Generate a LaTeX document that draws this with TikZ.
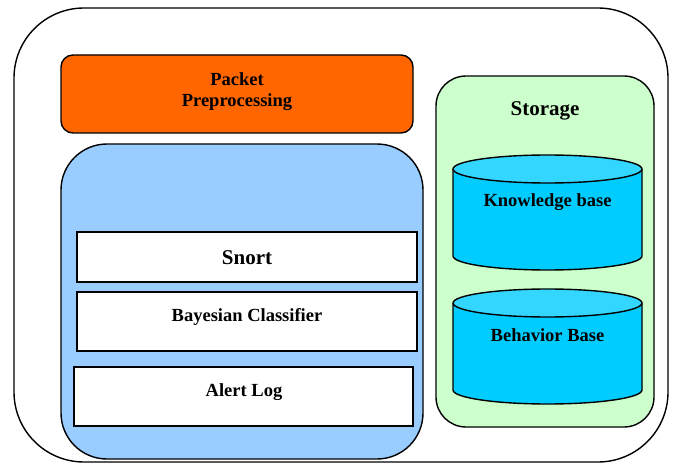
\documentclass[tikz,border=0pt]{standalone}
\usepackage{fontspec}
\setmainfont{Liberation Serif}
\usetikzlibrary{calc}
\definecolor{orangebox}{HTML}{FF6600}
\definecolor{bluebox}{HTML}{99CCFF}
\definecolor{greenbox}{HTML}{CCFFCC}
\definecolor{cylbody}{HTML}{00CCFF}
\definecolor{cyltop}{HTML}{33D6FF}
\tikzset{
  frame/.style={draw=black, line width=1.4pt},
  lbl/.style={font=\bfseries\fontsize{18.5}{21}\selectfont, align=center, inner sep=0pt},
  biglbl/.style={font=\bfseries\fontsize{21}{24}\selectfont, align=center, inner sep=0pt},
  whitebox/.style={frame, fill=white}
}
\begin{document}
\begin{tikzpicture}[x=1pt,y=-1pt]
\useasboundingbox (0,0) rectangle (674,465);
% outer frame
\draw[frame, rounded corners=70pt] (14,8) rectangle (668,462);
% packet preprocessing
\draw[frame, fill=orangebox, rounded corners=12pt] (61,55) rectangle (413,133);
\node[lbl] (pp) at (237,92) {Packet\\Preprocessing};
% blue container
\draw[frame, fill=bluebox, rounded corners=46pt] (61,144) rectangle (423,459);
\draw[whitebox] (77,232) rectangle (417,282);
\node[biglbl] (snort) at (247,257.5) {Snort};
\draw[whitebox] (77,292) rectangle (417,351);
\node[lbl] (bayes) at (247,317) {Bayesian Classifier};
\draw[whitebox] (74,367) rectangle (413,426);
\node[lbl] (alert) at (244,392) {Alert Log};
% storage
\draw[frame, fill=greenbox, rounded corners=30pt] (436,76) rectangle (654,427);
\node[biglbl] (storage) at (545,111) {Storage};
% cylinder 1
\fill[cylbody] (453,169) -- (453,256) arc[start angle=180, end angle=360, x radius=94.5pt, y radius=14pt] -- (642,169) -- cycle;
\draw[frame] (453,169) -- (453,256) arc[start angle=180, end angle=360, x radius=94.5pt, y radius=14pt] -- (642,169);
\draw[frame, fill=cyltop] (547.5,169) ellipse[x radius=94.5pt, y radius=14pt];
\node[lbl] (kb) at (547.5,202) {Knowledge base};
% cylinder 2
\fill[cylbody] (453,303) -- (453,390) arc[start angle=180, end angle=360, x radius=94.5pt, y radius=14pt] -- (642,303) -- cycle;
\draw[frame] (453,303) -- (453,390) arc[start angle=180, end angle=360, x radius=94.5pt, y radius=14pt] -- (642,303);
\draw[frame, fill=cyltop] (547.5,303) ellipse[x radius=94.5pt, y radius=14pt];
\node[lbl] (bb) at (547.5,335) {Behavior Base};
\end{tikzpicture}
\end{document}
